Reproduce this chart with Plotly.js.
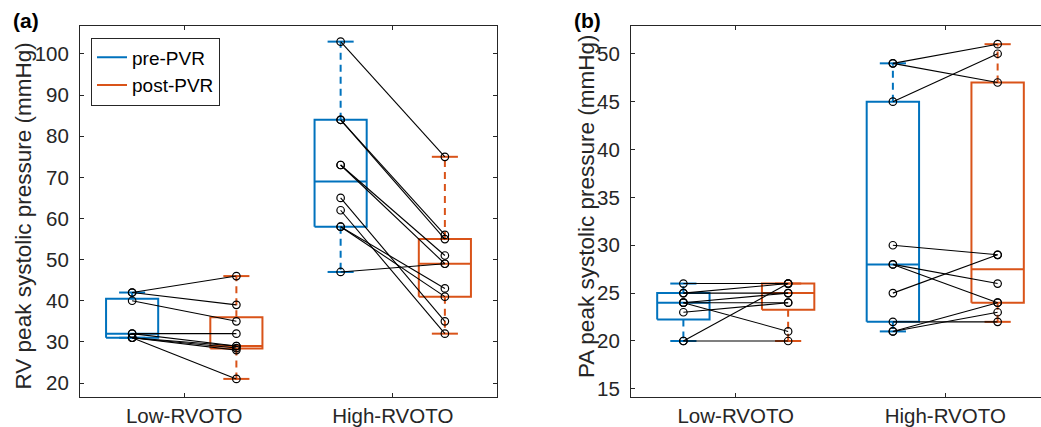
<!DOCTYPE html>
<html><head><meta charset="utf-8">
<script src="https://cdn.plot.ly/plotly-3.0.1.min.js"></script>
<style>body{margin:0;padding:0;background:#fff}#chart{width:1041px;height:427px}</style>
</head><body><div id="chart"></div>
<script>
// ---- data (paired per patient: pre[i] -> post[i]) ----
const categories = ['Low-RVOTO', 'High-RVOTO'];
const seriesNames = ['pre-PVR', 'post-PVR'];
const seriesColors = ['#0072BD', '#D95319'];

// Panel (a): RV peak systolic pressure (mmHg)
const rvLowPre   = [42, 42, 40, 32, 32, 31, 31, 31, 31];
const rvLowPost  = [46, 39, 35, 32, 29, 29, 28.5, 28, 21];
const rvHighPre  = [103, 84, 84, 73, 73, 65, 62, 58, 58, 47];
const rvHighPost = [75, 56, 55, 51, 49, 35, 32, 43, 41, 49];

// Panel (b): PA peak systolic pressure (mmHg)
const paLowPre   = [26, 25, 25, 24, 24, 24, 23, 20, 20];
const paLowPost  = [26, 25, 26, 24, 25, 21, 24, 26, 20];
const paHighPre  = [49, 49, 45, 30, 28, 28, 25, 22, 21, 21];
const paHighPost = [51, 47, 50, 29, 26, 24, 29, 22, 24, 23];

const panelA = {label: '(a)', ytitle: 'RV peak systolic pressure (mmHg)',
  groups: [[rvLowPre, rvLowPost], [rvHighPre, rvHighPost]]};
const panelB = {label: '(b)', ytitle: 'PA peak systolic pressure (mmHg)',
  groups: [[paLowPre, paLowPost], [paHighPre, paHighPost]]};

// ---- style ----
const FONT = 'Liberation Sans, Arial, Helvetica, sans-serif';
const AX = '#262626';
const offset = 0.25, boxHalf = 0.125, capHalf = 0.0625;

function prctile(s, p) { // MATLAB-style percentile on sorted array
  const n = s.length; const pos = n * p + 0.5;
  if (pos <= 1) return s[0];
  if (pos >= n) return s[n - 1];
  const lo = Math.floor(pos), f = pos - lo;
  return s[lo - 1] + f * (s[lo] - s[lo - 1]);
}
function boxStats(v) {
  const s = v.slice().sort((a, b) => a - b);
  const q1 = prctile(s, 0.25), med = prctile(s, 0.5), q3 = prctile(s, 0.75);
  const iqr = q3 - q1;
  const hi = Math.max(...s.filter(x => x <= q3 + 1.5 * iqr));
  const lo = Math.min(...s.filter(x => x >= q1 - 1.5 * iqr));
  return {q1, med, q3, hi, lo};
}

function panelTraces(panel, xa, ya, legend) {
  const traces = [];
  for (let k = 0; k < 2; k++) {
    const bx = [], by = [], wx = [], wy = [], cx = [], cy = [];
    panel.groups.forEach((g, gi) => {
      const c = gi + 1 + (k === 0 ? -offset : offset);
      const st = boxStats(g[k]);
      bx.push(c - boxHalf, c + boxHalf, c + boxHalf, c - boxHalf, c - boxHalf, null, c - boxHalf, c + boxHalf, null);
      by.push(st.q1, st.q1, st.q3, st.q3, st.q1, null, st.med, st.med, null);
      wx.push(c, c, null, c, c, null);
      wy.push(st.q3, st.hi, null, st.q1, st.lo, null);
      cx.push(c - capHalf, c + capHalf, null, c - capHalf, c + capHalf, null);
      cy.push(st.hi, st.hi, null, st.lo, st.lo, null);
    });
    const col = seriesColors[k];
    traces.push({x: wx, y: wy, xaxis: xa, yaxis: ya, mode: 'lines', showlegend: false, hoverinfo: 'skip',
      line: {color: col, width: 2, dash: '7px,5px'}});
    traces.push({x: cx, y: cy, xaxis: xa, yaxis: ya, mode: 'lines', showlegend: false, hoverinfo: 'skip',
      line: {color: col, width: 2}});
    traces.push({x: bx, y: by, xaxis: xa, yaxis: ya, mode: 'lines', name: seriesNames[k],
      showlegend: legend, line: {color: col, width: 2}});
  }
  // paired lines + markers
  const lx = [], ly = [], mx = [], my = [];
  panel.groups.forEach((g, gi) => {
    const cPre = gi + 1 - offset, cPost = gi + 1 + offset;
    g[0].forEach((v, i) => {
      lx.push(cPre, cPost, null); ly.push(v, g[1][i], null);
      mx.push(cPre, cPost); my.push(v, g[1][i]);
    });
  });
  traces.push({x: lx, y: ly, xaxis: xa, yaxis: ya, mode: 'lines', showlegend: false, hoverinfo: 'skip',
    line: {color: '#000000', width: 1.1}});
  traces.push({x: mx, y: my, xaxis: xa, yaxis: ya, mode: 'markers', showlegend: false,
    marker: {symbol: 'circle-open', size: 7.5, color: '#000000', line: {width: 1.2}}});
  return traces;
}

const data = [...panelTraces(panelA, 'x', 'y', true), ...panelTraces(panelB, 'x2', 'y2', false)];

const W = 1041, H = 427;
const tickfont = {family: FONT, size: 20.5, color: AX};
function xax(dom, range, mirror, anchor) {
  return {domain: dom, range: range, anchor: anchor, tickvals: [1, 2], ticktext: categories, ticks: 'inside', ticklen: 4,
    tickcolor: AX, showline: true, linecolor: AX, linewidth: 1, mirror: mirror, zeroline: false,
    showgrid: false, tickfont: tickfont, ticklabelstandoff: 0, fixedrange: true};
}
function yax(dom, range, dtick, mirror, anchor) {
  return {domain: dom, range: range, anchor: anchor, dtick: dtick, tick0: 0, ticks: 'inside', ticklen: 4, tickcolor: AX,
    showline: true, linecolor: AX, linewidth: 1, mirror: mirror, zeroline: false, showgrid: false,
    tickfont: tickfont, ticklabelstandoff: 6, fixedrange: true};
}
const yDom = [30 / H, 401 / H];
const layout = {
  width: W, height: H, margin: {l: 0, r: 0, t: 0, b: 0}, paper_bgcolor: '#fff', plot_bgcolor: '#fff',
  showlegend: true,
  xaxis: xax([80 / W, 497 / W], [0.5, 2.5], 'ticks', 'y'),
  yaxis: yax(yDom, [16.6, 106.8], 10, 'ticks', 'x'),
  xaxis2: xax([631 / W, 1], [0.5, 2.457], 'ticks', 'y2'),
  yaxis2: yax(yDom, [14.15, 52.9], 5, false, 'x2'),
  legend: {x: 91 / W, y: 1 - 37.5 / H, xanchor: 'left', yanchor: 'top', bgcolor: '#fff',
    bordercolor: AX, borderwidth: 1, font: {family: FONT, size: 19, color: '#000'}, tracegroupgap: 0},
  annotations: [
    {text: '<b>' + panelA.label + '</b>', xref: 'paper', yref: 'paper', x: 11 / W, y: 1 - 20 / H,
      xanchor: 'left', yanchor: 'middle', showarrow: false, font: {family: FONT, size: 21, color: '#000'}},
    {text: '<b>' + panelB.label + '</b>', xref: 'paper', yref: 'paper', x: 572 / W, y: 1 - 20 / H,
      xanchor: 'left', yanchor: 'middle', showarrow: false, font: {family: FONT, size: 21, color: '#000'}},
    {text: panelA.ytitle, xref: 'paper', yref: 'paper', x: 22.5 / W, y: 1 - 216 / H, textangle: -90,
      xanchor: 'center', yanchor: 'middle', showarrow: false, font: {family: FONT, size: 22.5, color: AX}},
    {text: panelB.ytitle, xref: 'paper', yref: 'paper', x: 586 / W, y: 1 - 207 / H, textangle: -90,
      xanchor: 'center', yanchor: 'middle', showarrow: false, font: {family: FONT, size: 22.5, color: AX}}
  ]
};
Plotly.newPlot('chart', data, layout, {displayModeBar: false, staticPlot: true});
</script></body></html>
